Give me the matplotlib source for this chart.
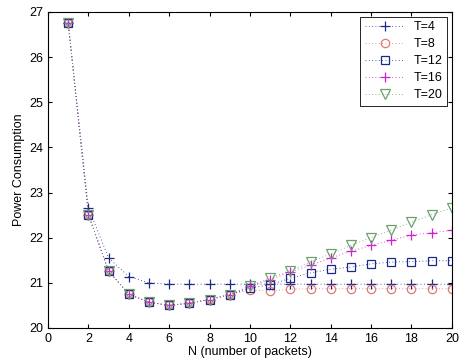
import numpy as np
import matplotlib
matplotlib.use("Agg")
import matplotlib.pyplot as plt

plt.rcParams['font.family'] = ['Liberation Sans', 'DejaVu Sans']

# N values (number of packets)
n = np.arange(1, 21)

# power consumption for each T
t4 = [26.75, 22.66, 21.55, 21.14, 21.00, 20.97, 20.97, 20.97, 20.97, 20.97,
      20.97, 20.97, 20.97, 20.97, 20.97, 20.97, 20.97, 20.97, 20.97, 20.97]
t8 = [26.75, 22.51, 21.26, 20.75, 20.57, 20.50, 20.55, 20.63, 20.74, 20.84,
      20.82, 20.86, 20.87, 20.87, 20.87, 20.87, 20.87, 20.87, 20.87, 20.87]
t12 = [26.75, 22.51, 21.26, 20.75, 20.57, 20.50, 20.55, 20.63, 20.74, 20.88,
       20.96, 21.10, 21.22, 21.30, 21.35, 21.42, 21.46, 21.47, 21.49, 21.49]
t16 = [26.75, 22.51, 21.26, 20.75, 20.57, 20.50, 20.55, 20.63, 20.74, 20.93,
       21.07, 21.24, 21.39, 21.55, 21.70, 21.83, 21.94, 22.06, 22.11, 22.16]
t20 = [26.75, 22.51, 21.26, 20.75, 20.57, 20.50, 20.55, 20.63, 20.74, 20.93,
       21.11, 21.27, 21.46, 21.64, 21.83, 22.00, 22.17, 22.34, 22.51, 22.66]

series = [
    (t4, "T=4", "#1c2a86", "+", 7),
    (t8, "T=8", "#e07a70", "o", 6),
    (t12, "T=12", "#1c2a86", "s", 6),
    (t16, "T=16", "#d21fd2", "+", 7),
    (t20, "T=20", "#6ea06e", "v", 7),
]

fig = plt.figure(figsize=(4.62, 3.62), dpi=100)
ax = fig.add_axes([0.104, 0.094, 0.874, 0.873])

for vals, label, color, marker, ms in series:
    line, = ax.plot(n, vals, linestyle=":", color=color, linewidth=0.6,
                    marker=marker, markersize=ms, markerfacecolor="none",
                    markeredgewidth=0.9, label=label)
    line.set_dashes([1, 3])

ax.set_xlim(0, 20)
ax.set_ylim(20, 27)
ax.set_xticks(np.arange(0, 21, 2))
ax.set_yticks(np.arange(20, 28, 1))
ax.tick_params(direction="in", top=True, right=True, labelsize=9, length=3)
ax.set_xlabel("N (number of packets)", fontsize=9, labelpad=1)
ax.set_ylabel("Power Consumption", fontsize=9, labelpad=3)

leg = ax.legend(loc="upper right", fontsize=9, fancybox=False, framealpha=1,
                edgecolor="black", handlelength=3.2, borderpad=0.35,
                labelspacing=0.4, handletextpad=0.7, borderaxespad=0.4)
leg.get_frame().set_linewidth(0.6)

fig.savefig("out.png", dpi=100)
